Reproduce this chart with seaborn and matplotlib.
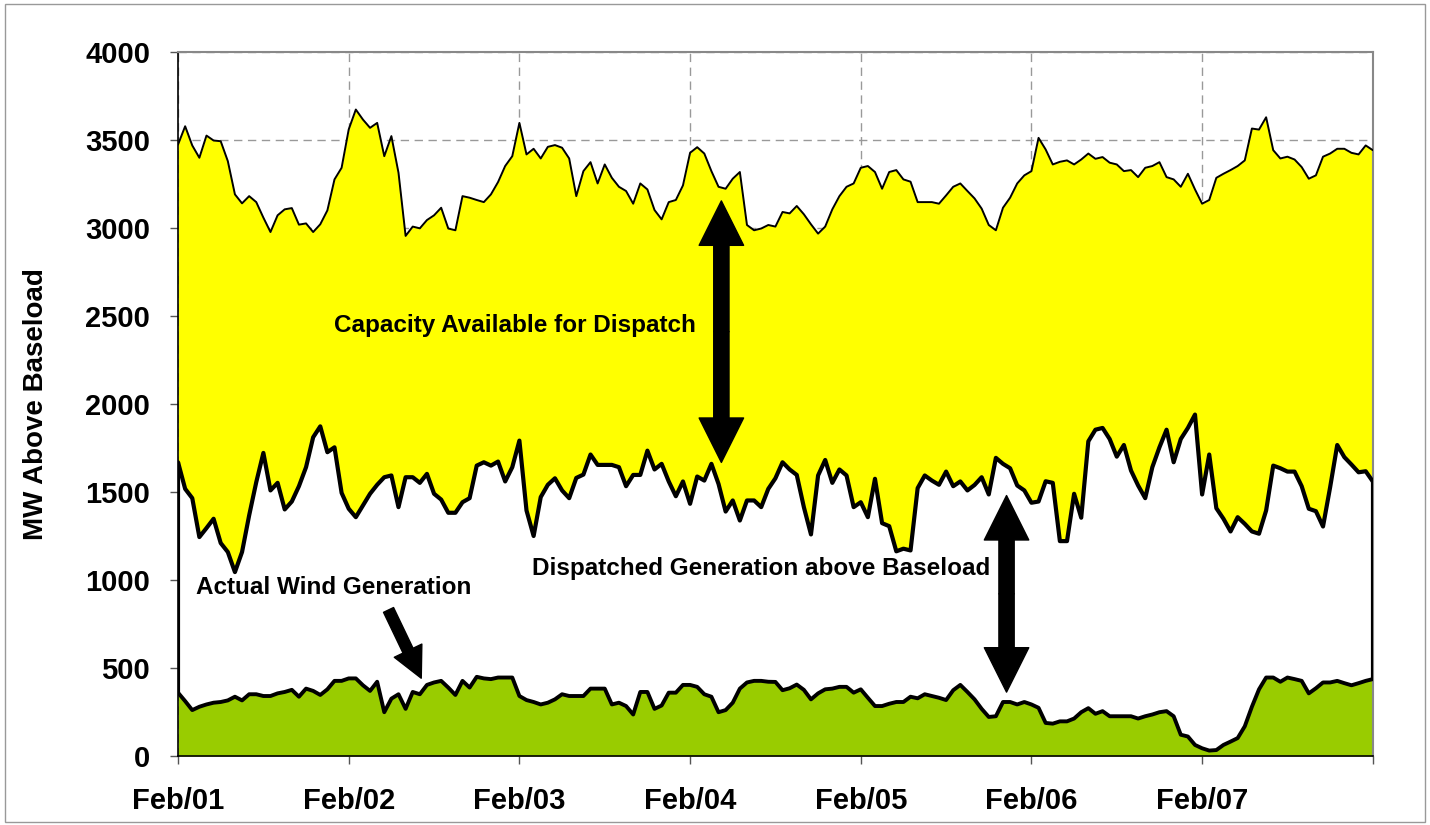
import matplotlib
import matplotlib.pyplot as plt

matplotlib.use("Agg")
import numpy as np
import seaborn as sns
from matplotlib.patches import Rectangle

# hourly values, Feb/01 00:00 .. Feb/08 00:00 (MW above baseload)
capacity = [
    3474, 3578, 3469, 3399, 3525, 3497, 3493, 3380, 3191, 3140, 3181, 3147,
    3059, 2977, 3072, 3106, 3113, 3019, 3026, 2977, 3021, 3100, 3276, 3342,
    3560, 3673, 3616, 3569, 3597, 3408, 3522, 3314, 2955, 3008, 2998, 3045,
    3072, 3115, 2997, 2987, 3181, 3172, 3159, 3147, 3191, 3261, 3352, 3408,
    3597, 3418, 3450, 3395, 3461, 3471, 3456, 3395, 3181, 3323, 3374, 3253,
    3361, 3285, 3234, 3210, 3138, 3253, 3219, 3102, 3049, 3147, 3159, 3242,
    3427, 3459, 3423, 3323, 3234, 3223, 3280, 3318, 3017, 2987, 2997, 3017,
    3008, 3091, 3083, 3125, 3078, 3021, 2968, 3008, 3106, 3181, 3234, 3253,
    3342, 3352, 3318, 3223, 3318, 3329, 3276, 3263, 3147, 3147, 3147, 3138,
    3185, 3234, 3253, 3210, 3168, 3110, 3017, 2987, 3115, 3172, 3253, 3299,
    3323, 3512, 3446, 3361, 3376, 3384, 3361, 3389, 3423, 3393, 3403, 3371,
    3361, 3323, 3329, 3289, 3342, 3352, 3374, 3289, 3276, 3234, 3308, 3219,
    3138, 3159, 3285, 3308, 3329, 3352, 3384, 3565, 3559, 3629, 3442, 3395,
    3405, 3389, 3346, 3280, 3299, 3405, 3423, 3450, 3450, 3427, 3418, 3469,
    3442,
]
dispatched = [
    1669, 1518, 1465, 1244, 1295, 1348, 1210, 1159, 1045, 1159, 1367, 1556,
    1722, 1509, 1552, 1401, 1446, 1533, 1641, 1811, 1873, 1726, 1754, 1495,
    1405, 1357, 1423, 1490, 1541, 1584, 1594, 1414, 1584, 1584, 1552, 1603,
    1490, 1457, 1382, 1382, 1442, 1465, 1650, 1669, 1650, 1673, 1560, 1641,
    1792, 1395, 1250, 1471, 1541, 1578, 1509, 1465, 1580, 1599, 1713, 1654,
    1654, 1654, 1641, 1533, 1597, 1597, 1735, 1628, 1660, 1560, 1476, 1560,
    1433, 1588, 1565, 1660, 1546, 1389, 1452, 1338, 1452, 1452, 1414, 1518,
    1578, 1669, 1628, 1597, 1414, 1259, 1594, 1682, 1552, 1628, 1594, 1414,
    1442, 1357, 1575, 1323, 1306, 1163, 1178, 1168, 1522, 1594, 1565, 1541,
    1616, 1533, 1560, 1509, 1540, 1584, 1486, 1694, 1660, 1635, 1537, 1509,
    1439, 1446, 1561, 1552, 1221, 1221, 1490, 1354, 1788, 1854, 1864, 1801,
    1701, 1767, 1622, 1537, 1465, 1641, 1754, 1854, 1669, 1801, 1864, 1940,
    1486, 1713, 1408, 1348, 1276, 1357, 1319, 1276, 1263, 1395, 1650, 1635,
    1616, 1616, 1533, 1405, 1391, 1304, 1527, 1767, 1698, 1656, 1612, 1618,
    1560,
]
wind = [
    360, 312, 261, 280, 293, 303, 307, 316, 337, 316, 351, 351,
    341, 341, 356, 364, 376, 337, 383, 370, 347, 379, 427, 427,
    441, 441, 402, 370, 422, 249, 326, 351, 268, 364, 351, 404,
    418, 427, 389, 347, 427, 389, 450, 441, 437, 446, 446, 446,
    341, 318, 307, 293, 303, 322, 351, 341, 341, 341, 383, 383,
    383, 293, 303, 284, 236, 364, 364, 268, 287, 360, 360, 404,
    404, 393, 351, 337, 249, 261, 303, 383, 418, 427, 427, 422,
    421, 374, 385, 406, 376, 322, 356, 379, 383, 393, 393, 360,
    379, 331, 284, 284, 297, 307, 307, 337, 328, 351, 341, 331,
    318, 374, 404, 364, 322, 268, 222, 226, 307, 307, 293, 307,
    293, 274, 188, 184, 197, 197, 213, 249, 272, 240, 255, 226,
    226, 226, 226, 213, 226, 236, 249, 255, 226, 121, 111, 63,
    44, 31, 34, 63, 82, 102, 169, 280, 379, 446, 446, 422,
    446, 437, 427, 356, 385, 418, 418, 427, 414, 402, 414, 427,
    437,
]
day_labels = ["Feb/01", "Feb/02", "Feb/03", "Feb/04", "Feb/05", "Feb/06", "Feb/07", ""]

hours = np.arange(len(capacity))
day_ticks = np.arange(0, len(capacity), 24)

sns.set_theme(style="white")
plt.rcParams["font.family"] = ["Liberation Sans", "DejaVu Sans"]
plt.rcParams["text.color"] = "black"
plt.rcParams["axes.labelcolor"] = "black"
narrow = ["Liberation Sans Narrow", "Liberation Sans", "DejaVu Sans"]

fig = plt.figure(figsize=(14.3, 8.25), dpi=100)
ax = fig.add_axes([0.1245, 0.0836, 0.8355, 0.8534])

# grid sits under the filled bands
ax.set_axisbelow(True)
ax.grid(True, axis="both", color="#999999", linestyle=(0, (6, 4)), linewidth=1)

ax.fill_between(hours, dispatched, capacity, color="#FFFF00", linewidth=0, zorder=2)
ax.fill_between(hours, wind, dispatched, color="white", linewidth=0, zorder=2)
ax.fill_between(hours, 0, wind, color="#99CC00", linewidth=0, zorder=2)

sns.lineplot(x=hours, y=capacity, ax=ax, color="black", linewidth=1.4, zorder=3)
sns.lineplot(x=hours, y=dispatched, ax=ax, color="black", linewidth=3.0, zorder=3)
sns.lineplot(x=hours, y=wind, ax=ax, color="black", linewidth=2.8, zorder=3)
ax.vlines([hours[0], hours[-1]], [wind[0], wind[-1]], [dispatched[0], dispatched[-1]],
          color="black", linewidth=3.0, zorder=3)

ax.set_xlim(hours[0], hours[-1])
ax.set_ylim(0, 4000)
ax.set_yticks(np.arange(0, 4001, 500))
ax.set_xticks(day_ticks)
ax.set_xticklabels(day_labels)

for lab in ax.get_xticklabels() + ax.get_yticklabels():
    lab.set_fontweight("bold")
    lab.set_fontsize(21)
ax.tick_params(axis="both", which="major", direction="out", length=6, width=1,
               color="#555555", bottom=True, left=True, labelcolor="black")
ax.tick_params(axis="y", pad=14)
ax.tick_params(axis="x", pad=16)

ax.set_ylabel("MW Above Baseload", fontsize=20, fontweight="bold", family=narrow,
              color="black", labelpad=26)

for side in ["left", "bottom"]:
    ax.spines[side].set_color("black")
    ax.spines[side].set_linewidth(1.2)
for side in ["top", "right"]:
    ax.spines[side].set_color("#888888")
    ax.spines[side].set_linewidth(1.5)

# annotations
txt = dict(fontsize=17.5, fontweight="bold", family=narrow, color="black",
           ha="center", va="center", zorder=5)
ax.text(47.4, 2445, "Capacity Available for Dispatch", **txt)
ax.text(82.0, 1066, "Dispatched Generation above Baseload", **txt)
ax.text(21.9, 959, "Actual Wind Generation", **txt)

big = dict(arrowstyle="simple,head_length=32,head_width=32,tail_width=11",
           color="black", shrinkA=0, shrinkB=0, mutation_scale=1)
for x, lo, hi in [(76.4, 1668, 3154), (116.5, 363, 1480)]:
    mid = (lo + hi) / 2
    ax.annotate("", xy=(x, hi), xytext=(x, mid), arrowprops=big, zorder=5)
    ax.annotate("", xy=(x, lo), xytext=(x, mid), arrowprops=big, zorder=5)

ax.annotate("", xy=(34.2, 442), xytext=(29.6, 830),
            arrowprops=dict(arrowstyle="simple,head_length=22,head_width=22,tail_width=8",
                            color="black", shrinkA=0, shrinkB=0, mutation_scale=1),
            zorder=5)

fig.patches.append(Rectangle((0.0035, 0.004), 0.993, 0.991, transform=fig.transFigure,
                             fill=False, edgecolor="#999999", linewidth=1))

plt.savefig("out.png", dpi=100)
plt.close()
